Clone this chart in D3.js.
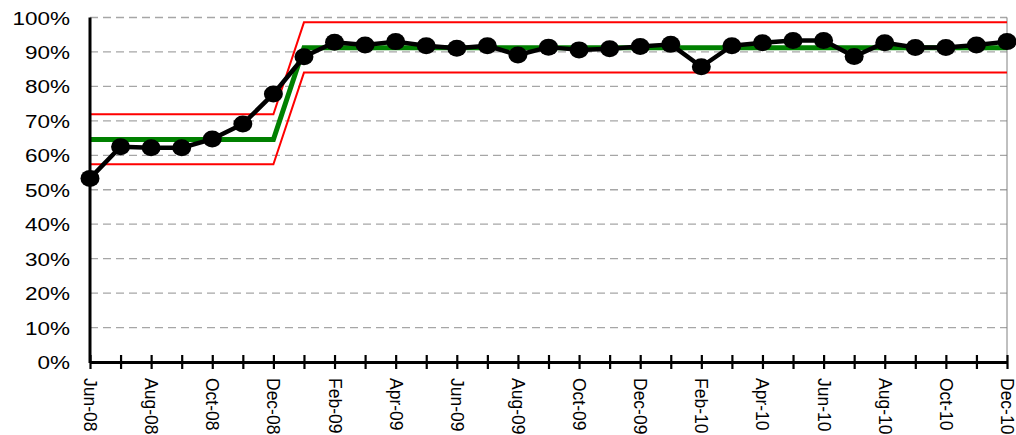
<!DOCTYPE html>
<html>
<head>
<meta charset="utf-8">
<script src="https://cdn.jsdelivr.net/npm/d3@7"></script>
<style>
  body { margin: 0; background: #fff; }
  svg { display: block; font-family: "Liberation Sans", Arial, sans-serif; }
</style>
</head>
<body>
<svg id="chart" width="1016" height="435"></svg>
<script>
// monthly values
var months = ["Jun-08","Jul-08","Aug-08","Sep-08","Oct-08","Nov-08","Dec-08",
              "Jan-09","Feb-09","Mar-09","Apr-09","May-09","Jun-09","Jul-09","Aug-09","Sep-09","Oct-09","Nov-09","Dec-09",
              "Jan-10","Feb-10","Mar-10","Apr-10","May-10","Jun-10","Jul-10","Aug-10","Sep-10","Oct-10","Nov-10","Dec-10"];
var rate = [53.3, 62.5, 62.2, 62.2, 64.7, 69.1, 77.8,
            88.6, 92.8, 92.0, 93.0, 91.8, 91.1, 91.8, 89.1, 91.4, 90.6, 90.9, 91.6,
            92.2, 85.7, 91.8, 92.7, 93.3, 93.3, 88.7, 92.7, 91.3, 91.3, 92.0, 93.0];
var centre = [64.6, 64.6, 64.6, 64.6, 64.6, 64.6, 64.6,
              91.2, 91.2, 91.2, 91.2, 91.2, 91.2, 91.2, 91.2, 91.2, 91.2, 91.2, 91.2,
              91.2, 91.2, 91.2, 91.2, 91.2, 91.2, 91.2, 91.2, 91.2, 91.2, 91.2, 91.2];
var ucl = [71.9, 71.9, 71.9, 71.9, 71.9, 71.9, 71.9,
           98.6, 98.6, 98.6, 98.6, 98.6, 98.6, 98.6, 98.6, 98.6, 98.6, 98.6, 98.6,
           98.6, 98.6, 98.6, 98.6, 98.6, 98.6, 98.6, 98.6, 98.6, 98.6, 98.6, 98.6];
var lcl = [57.4, 57.4, 57.4, 57.4, 57.4, 57.4, 57.4,
           84.0, 84.0, 84.0, 84.0, 84.0, 84.0, 84.0, 84.0, 84.0, 84.0, 84.0, 84.0,
           84.0, 84.0, 84.0, 84.0, 84.0, 84.0, 84.0, 84.0, 84.0, 84.0, 84.0, 84.0];
var yTicks = [0, 10, 20, 30, 40, 50, 60, 70, 80, 90, 100];

var LEFT = 90, RIGHT = 1007, TOP = 17.5, BOTTOM = 362;

var svg = d3.select("#chart");

var x = d3.scalePoint().domain(months).range([LEFT, RIGHT]);
var y = d3.scaleLinear().domain([0, 100]).range([BOTTOM, TOP]);

// grid
svg.append("g").selectAll("line")
    .data(yTicks.filter(function(d){ return d > 0; }))
    .enter().append("line")
    .attr("x1", LEFT).attr("x2", RIGHT)
    .attr("y1", function(d){ return y(d); })
    .attr("y2", function(d){ return y(d); })
    .style("stroke", "#a6a6a6")
    .style("stroke-width", 1.3)
    .style("stroke-dasharray", "8,5");

// right border
svg.append("line")
    .attr("x1", RIGHT).attr("x2", RIGHT)
    .attr("y1", TOP).attr("y2", BOTTOM)
    .style("stroke", "#808080").style("stroke-width", 1);

// y labels
var yAxis = svg.append("g")
    .attr("transform", "translate(" + LEFT + ",0)")
    .call(d3.axisLeft(y).tickValues(yTicks).tickSize(0).tickFormat(function(d){ return d + "%"; }));
yAxis.select(".domain").remove();
yAxis.selectAll("text")
    .attr("x", null)
    .attr("dy", null)
    .attr("transform", "translate(-20,6.5) scale(1.25,1)")
    .style("font-size", "18px")
    .style("font-family", "'Liberation Sans', Arial, sans-serif")
    .style("fill", "#000");

// control lines
var line = function(vals){
    return d3.line()
        .x(function(d, i){ return x(months[i]); })
        .y(function(d){ return y(d); })(vals);
};

svg.append("path").attr("d", line(ucl))
    .style("fill", "none").style("stroke", "#ff0000").style("stroke-width", 2);
svg.append("path").attr("d", line(lcl))
    .style("fill", "none").style("stroke", "#ff0000").style("stroke-width", 2);
svg.append("path").attr("d", line(centre))
    .style("fill", "none").style("stroke", "#008000").style("stroke-width", 5);

// axes lines
svg.append("line")
    .attr("x1", LEFT).attr("x2", LEFT)
    .attr("y1", TOP).attr("y2", BOTTOM + 1)
    .style("stroke", "#000").style("stroke-width", 3);

var xAxis = svg.append("g")
    .attr("transform", "translate(0," + BOTTOM + ")")
    .call(d3.axisBottom(x).tickSize(7).tickSizeOuter(0)
        .tickFormat(function(d, i){ return i % 2 == 0 ? d : ""; }));
xAxis.select(".domain").style("stroke", "#000").style("stroke-width", 3);
xAxis.selectAll(".tick line")
    .attr("y1", -7).attr("y2", 7)
    .style("stroke", "#000").style("stroke-width", 2.2);
xAxis.selectAll(".tick text")
    .attr("y", null).attr("dy", null)
    .attr("transform", "translate(-6.5,16) rotate(90)")
    .attr("text-anchor", "start")
    .style("font-size", "17.5px")
    .style("font-family", "'Liberation Sans', Arial, sans-serif")
    .style("fill", "#000");

// data series
svg.append("path").attr("d", line(rate))
    .style("fill", "none").style("stroke", "#000").style("stroke-width", 4.5)
    .style("stroke-linejoin", "round");

svg.append("g").selectAll("ellipse")
    .data(rate)
    .enter().append("ellipse")
    .attr("cx", function(d, i){ return x(months[i]); })
    .attr("cy", function(d){ return y(d); })
    .attr("rx", 9.5).attr("ry", 8.5)
    .style("fill", "#000");
</script>
</body>
</html>
